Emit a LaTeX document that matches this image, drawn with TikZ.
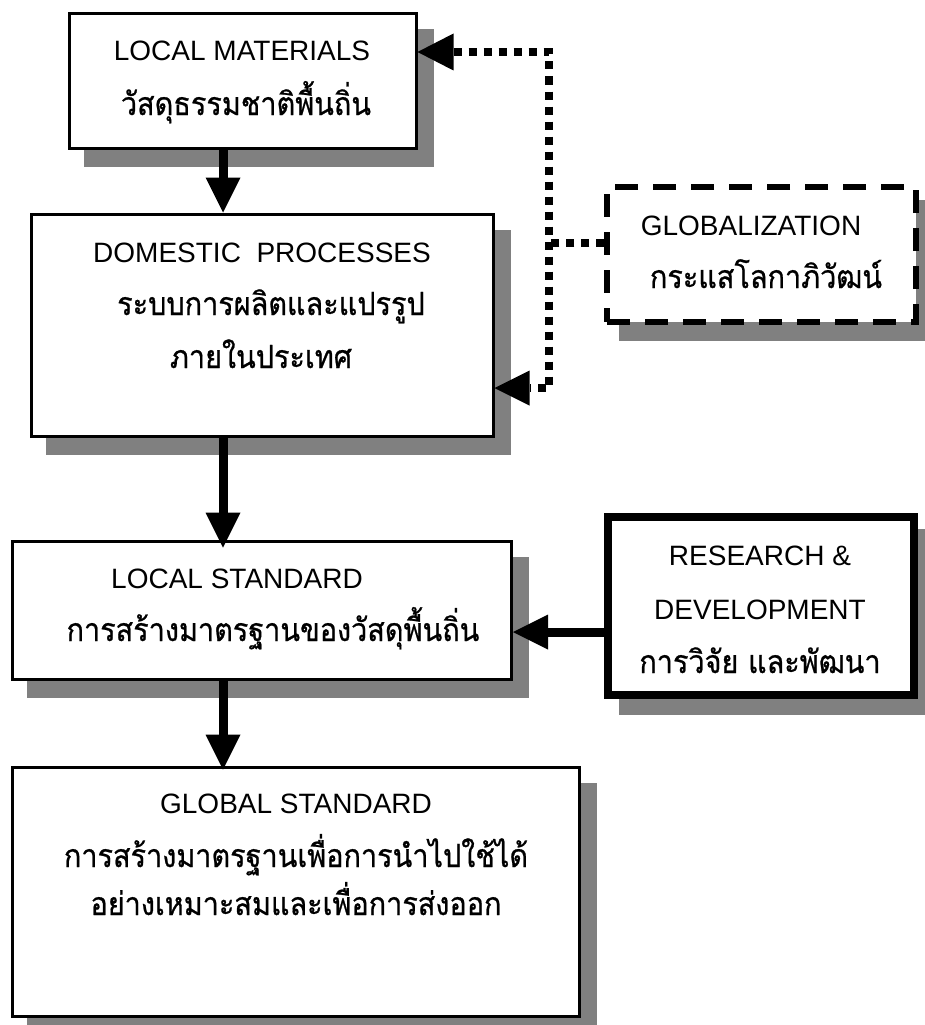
\documentclass[tikz,border=0pt]{standalone}
\usepackage{fontspec}
\setmainfont{Liberation Sans}
\newfontfamily\thaifont[Script=Thai,FakeStretch=0.9,FakeBold=0.7]{Loma}
\usetikzlibrary{arrows.meta,shadows,calc}
\definecolor{shadowgray}{RGB}{128,128,128}
\tikzset{
  shthin/.style={general shadow={shadow xshift=16pt, shadow yshift=-17pt, fill=shadowgray, draw=shadowgray, solid, line width=3pt}},
  shthick/.style={general shadow={shadow xshift=15pt, shadow yshift=-16pt, fill=shadowgray, draw=shadowgray, solid, line width=8pt}},
  shdash/.style={general shadow={shadow xshift=15pt, shadow yshift=-16pt, fill=shadowgray, draw=shadowgray, solid, line width=5.5pt}},
  box/.style={draw, line width=3pt, fill=white, inner sep=0pt, shthin},
  thickbox/.style={draw, line width=8pt, fill=white, inner sep=0pt, shthick},
  dashbox/.style={draw, line width=5.5pt, dash pattern=on 23pt off 15pt, fill=white, inner sep=0pt, shdash},
  en/.style={anchor=base, font=\fontsize{28}{30}\selectfont, inner sep=0pt},
  th/.style={anchor=base, font=\fontsize{32}{34}\selectfont\thaifont, inner sep=0pt},
  flow/.style={line width=9pt, -{Triangle[width=35pt,length=35pt,line width=0pt]}},
  dotconn/.style={line width=7.5pt, dash pattern=on 8pt off 7pt},
}
\begin{document}
\begin{tikzpicture}[x=1pt,y=-1pt]
\useasboundingbox (0,0) rectangle (924,1025);
% boxes
\node[box, minimum width=347pt, minimum height=134pt] (b1) at (242.5,81) {};
\node[box, minimum width=462pt, minimum height=222pt] (b2) at (262,325) {};
\node[dashbox, minimum width=309pt, minimum height=135pt] (g) at (761.5,254.5) {};
\node[box, minimum width=499pt, minimum height=138pt] (b3) at (262,610) {};
\node[thickbox, minimum width=306pt, minimum height=178pt] (rd) at (761,606) {};
\node[box, minimum width=567pt, minimum height=249pt] (b4) at (296,891.5) {};
% texts
\node[en] (t1a) at (242,60) {LOCAL MATERIALS};
\node[th] (t1b) at (246,115) {วัสดุธรรมชาติพื้นถิ่น};
\node[en] (t2a) at (262,262) {DOMESTIC\ \ PROCESSES};
\node[th] (t2b) at (271,315) {ระบบการผลิตและแปรรูป};
\node[th] (t2c) at (261,368) {ภายในประเทศ};
\node[en] (tga) at (751,235) {GLOBALIZATION};
\node[th] (tgb) at (766,288) {กระแสโลกาภิวัฒน์};
\node[en] (t3a) at (237,588) {LOCAL STANDARD};
\node[th] (t3b) at (273,641) {การสร้างมาตรฐานของวัสดุพื้นถิ่น};
\node[en] (tra) at (760,565) {RESEARCH \&};
\node[en] (trb) at (760,619) {DEVELOPMENT};
\node[th] (trc) at (760,673) {การวิจัย และพัฒนา};
\node[en] (t4a) at (296,813) {GLOBAL STANDARD};
\node[th] (t4b) at (296,867) {การสร้างมาตรฐานเพื่อการนำไปใช้ได้};
\node[th] (t4c) at (296,915) {อย่างเหมาะสมและเพื่อการส่งออก};
% solid flow arrows
\coordinate (ax) at (223,0);
\coordinate (ry) at (0,632);
\draw[flow] (b1.south -| ax) -- (b2.north -| ax);
\draw[flow] (b2.south -| ax) -- ($(b3.north -| ax)+(0,8)$);
\draw[flow] (b3.south -| ax) -- ($(b4.north -| ax)+(0,4)$);
\draw[flow] (rd.west |- ry) -- (b3.east |- ry);
% dotted globalization connector
\coordinate (jx) at (549,0);
\coordinate (ty) at (0,52);
\coordinate (by) at (0,388);
\coordinate (gy) at (0,243);
\draw[dotconn, {Triangle[width=37pt,length=36pt,line width=0pt]}-{Triangle[width=35pt,length=35pt,line width=0pt]}]
  (b1.east |- ty) -- (jx |- ty) -- (jx |- by) -- (b2.east |- by);
\draw[dotconn] (g.west |- gy) -- (jx |- gy);
\end{tikzpicture}
\end{document}
